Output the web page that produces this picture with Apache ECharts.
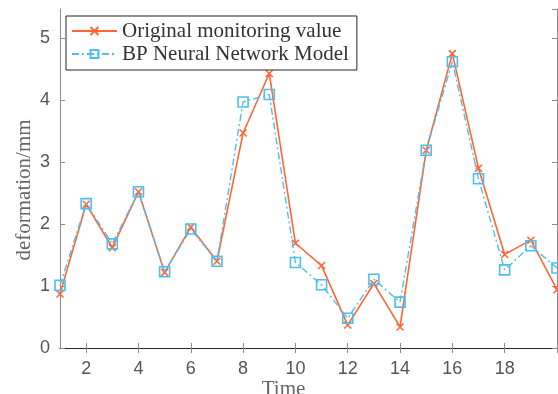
<!DOCTYPE html>
<html>
<head>
<meta charset="utf-8">
<script src="https://cdn.jsdelivr.net/npm/echarts@6/dist/echarts.min.js"></script>
<style>html,body{margin:0;padding:0;background:#fff;}#c{width:558px;height:394px;}</style>
</head>
<body>
<div id="c"></div>
<script>
var timeSteps = [1,2,3,4,5,6,7,8,9,10,11,12,13,14,15,16,17,18,19,20];
var originalValues = [0.87,2.32,1.62,2.52,1.22,1.95,1.40,3.47,4.43,1.69,1.33,0.37,1.04,0.34,3.19,4.75,2.90,1.51,1.74,0.94];
var bpValues = [1.01,2.33,1.68,2.52,1.23,1.92,1.40,3.97,4.09,1.38,1.02,0.48,1.11,0.74,3.19,4.62,2.73,1.26,1.65,1.29];
var xTicks = [2,4,6,8,10,12,14,16,18,20];
var xTickLabels = [2,4,6,8,10,12,14,16,18];
var seriesNames = ['Original monitoring value','BP Neural Network Model'];

var ORANGE = '#FF6633', BLUE = '#4DBEEE';
function pairs(xs, ys){ return xs.map(function(x,i){ return [x, ys[i]]; }); }

var chart = echarts.init(document.getElementById('c'));
var axisGray = '#8c8c8c';
chart.setOption({
  animation: false,
  backgroundColor: '#fff',
  grid: { left: 60, right: 1, top: 9, bottom: 46, containLabel: false, outerBoundsMode: 'none' },
  legend: {
    orient: 'vertical', left: 66, top: 16,
    padding: [4, 8, 5, 5], itemGap: 1, itemWidth: 45, itemHeight: 10,
    borderColor: '#262626', borderWidth: 1, backgroundColor: '#fff',
    textStyle: { fontFamily: 'Liberation Serif', fontSize: 21, color: '#333', lineHeight: 22 },
    data: seriesNames
  },
  xAxis: [{
    type: 'value', min: 1, max: 20, position: 'bottom',
    name: 'Time', nameLocation: 'middle', nameGap: 31, nameMoveOverlap: false,
    nameTextStyle: { fontFamily: 'Liberation Serif', fontSize: 21, color: '#666', padding: [0, 50, 0, 0] },
    axisLine: { show: true, lineStyle: { color: axisGray, width: 1 } },
    axisTick: { show: true, inside: true, length: 5, customValues: xTicks, lineStyle: { color: axisGray } },
    axisLabel: { customValues: xTickLabels, fontFamily: 'Liberation Sans', fontSize: 18, color: '#555', margin: 12 },
    splitLine: { show: false }
  }, {
    type: 'value', min: 1, max: 20, position: 'top',
    axisLine: { show: true, lineStyle: { color: '#262626', width: 1 } },
    axisTick: { show: true, inside: true, length: 5, customValues: xTicks, lineStyle: { color: axisGray } },
    axisLabel: { show: false }, splitLine: { show: false }
  }],
  yAxis: [{
    type: 'value', min: 0, max: 5.47, interval: 1, position: 'left',
    name: 'deformation/mm', nameLocation: 'middle', nameGap: 25, nameRotate: 90, nameMoveOverlap: false,
    nameTextStyle: { fontFamily: 'Liberation Serif', fontSize: 21, color: '#666', padding: [0, 23, 0, 0] },
    axisLine: { show: true, lineStyle: { color: axisGray, width: 1 } },
    axisTick: { show: true, inside: true, length: 5, lineStyle: { color: axisGray } },
    axisLabel: { showMaxLabel: false, fontFamily: 'Liberation Sans', fontSize: 18, color: '#555', margin: 10 },
    splitLine: { show: false }
  }, {
    type: 'value', min: 0, max: 5.47, interval: 1, position: 'right',
    axisLine: { show: true, lineStyle: { color: axisGray, width: 1 } },
    axisTick: { show: true, inside: true, length: 5, lineStyle: { color: axisGray } },
    axisLabel: { show: false }, splitLine: { show: false }
  }],
  series: [{
    name: seriesNames[0], type: 'line', xAxisIndex: 0, yAxisIndex: 0,
    data: pairs(timeSteps, originalValues),
    symbol: 'path://M0,0L10,10M10,0L0,10', symbolSize: 7,
    itemStyle: { color: ORANGE, borderColor: ORANGE, borderWidth: 1.5 },
    lineStyle: { color: ORANGE, width: 1.6 },
    z: 2
  }, {
    name: seriesNames[1], type: 'line', xAxisIndex: 0, yAxisIndex: 0,
    data: pairs(timeSteps, bpValues),
    symbol: 'rect', symbolSize: 10,
    itemStyle: { color: 'rgba(255,255,255,0)', borderColor: BLUE, borderWidth: 1.6 },
    lineStyle: { color: BLUE, width: 1.4, type: [7, 3, 2, 3] },
    z: 3
  }]
});
</script>
</body>
</html>
